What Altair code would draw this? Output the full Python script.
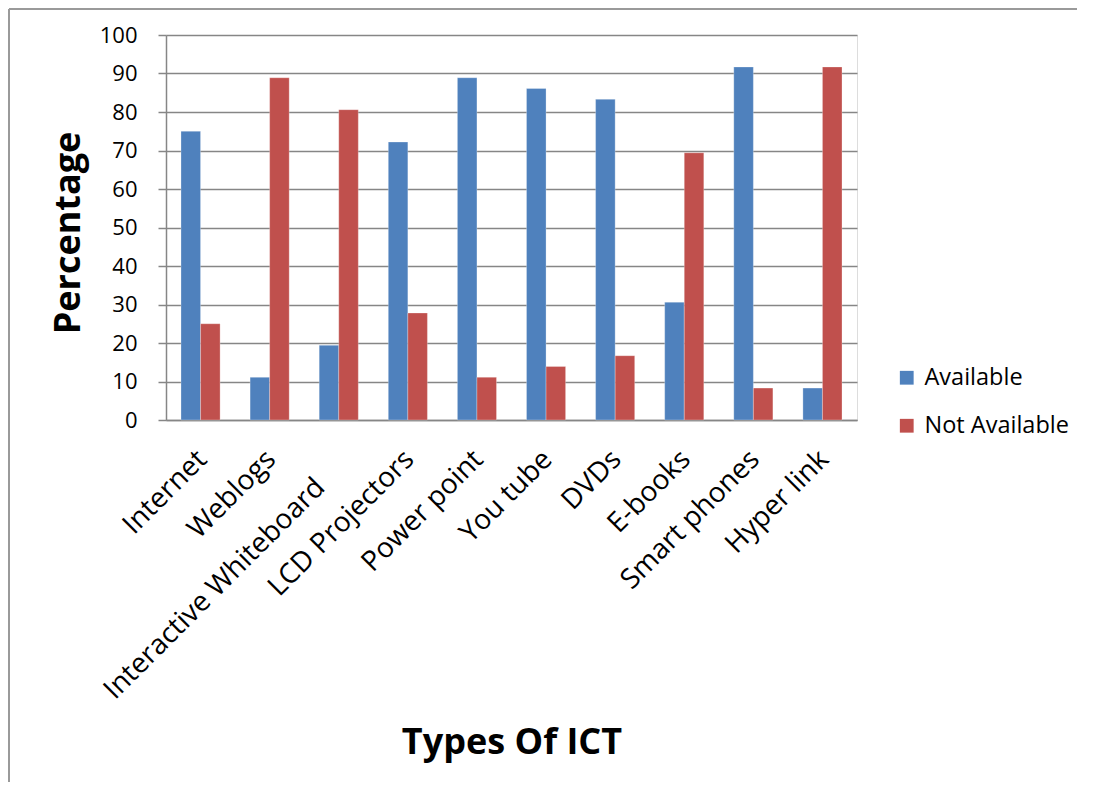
import altair as alt
import pandas as pd

categories = ["Internet", "Weblogs", "Interactive Whiteboard", "LCD Projectors",
              "Power point", "You tube", "DVDs", "E-books", "Smart  phones", "Hyper link"]
available = [75.0, 11.1, 19.4, 72.2, 88.9, 86.1, 83.3, 30.6, 91.7, 8.3]
not_available = [25.0, 88.9, 80.6, 27.8, 11.1, 13.9, 16.7, 69.4, 8.3, 91.7]
series = ["Available", "Not Available"]
colors = ["#4F81BD", "#C0504D"]

rows = []
for c, a, n in zip(categories, available, not_available):
    rows.append({"cat": c, "series": series[0], "value": a})
    rows.append({"cat": c, "series": series[1], "value": n})
df = pd.DataFrame(rows)

FONT = "Open Sans"
W, H = 691, 385
long_test = "datum.label === 'Interactive Whiteboard'"

bars = alt.Chart(df).mark_bar(stroke="#ffffff", strokeOpacity=0.35, strokeWidth=0.8).encode(
    x=alt.X("cat:N", sort=categories,
            scale=alt.Scale(paddingInner=0.434, paddingOuter=0.217),
            axis=alt.Axis(title="Types Of ICT", labelAngle=-45, labelAlign="right",
                          labelBaseline="middle", labelFontSize=28, labelFont=FONT,
                          labelColor="#000000",
                          labelPadding={"condition": {"test": long_test, "value": 63}, "value": 35},
                          labelOffset={"condition": {"test": long_test, "value": -18}, "value": 2},
                          ticks=False,
                          domainColor="#868686", domainWidth=1.5,
                          titleFont=FONT, titleFontSize=36, titleFontWeight="bold",
                          titleColor="#000000", titleY=322, titleBaseline="middle",
                          labelLimit=0)),
    xOffset=alt.XOffset("series:N", sort=series),
    y=alt.Y("value:Q", scale=alt.Scale(domain=[0, 100], nice=False),
            axis=alt.Axis(title="Percentage", values=list(range(0, 101, 10)),
                          labelFontSize=22, labelFont=FONT, labelColor="#000000",
                          labelPadding=21, tickSize=8, tickColor="#868686", tickWidth=1.5,
                          domainColor="#868686", domainWidth=1.5,
                          gridColor="#868686", gridWidth=1.5,
                          titleFont=FONT, titleFontSize=36, titleFontWeight="bold",
                          titleColor="#000000", titleX=-98, titleY=H / 2 + 5,
                          titleAlign="center", titleBaseline="middle", titleAngle=-90)),
    color=alt.Color("series:N", sort=series,
                    scale=alt.Scale(domain=series, range=colors),
                    legend=alt.Legend(title=None, orient="none", legendX=729, legendY=331,
                                      symbolType="square", symbolSize=190,
                                      symbolStrokeWidth=0, labelFontSize=23.5,
                                      labelFont=FONT, labelColor="#000000",
                                      rowPadding=23, labelOffset=6, padding=0)),
)

frame_top = alt.Chart(df).mark_rule(color="#9a9a9a", strokeWidth=1.5).encode(
    x=alt.value(-157), x2=alt.value(W + 236), y=alt.value(-26))
frame_left = alt.Chart(df).mark_rule(color="#9a9a9a", strokeWidth=1.5).encode(
    x=alt.value(-157), y=alt.value(-26), y2=alt.value(H + 400))

chart = alt.layer(frame_top, frame_left, bars).properties(
    width=W, height=H,
    autosize=alt.AutoSizeParams(type="none"),
    padding={"left": 158, "top": 27, "right": 220, "bottom": 362},
).configure_view(stroke=None).configure(background="#ffffff")

chart.save("out.html", embed_options={"renderer": "svg", "actions": False})
